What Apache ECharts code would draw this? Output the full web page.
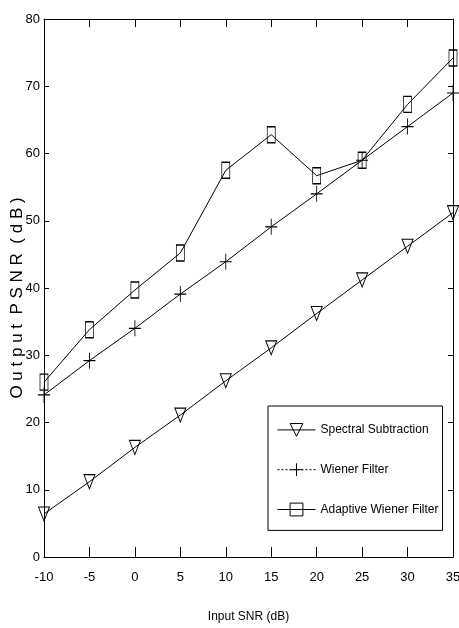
<!DOCTYPE html>
<html><head><meta charset="utf-8">
<script src="https://cdn.jsdelivr.net/npm/echarts@6/dist/echarts.min.js"></script>
<style>html,body{margin:0;padding:0;background:#fff}#c{width:459px;height:628px}</style>
</head><body><div id="c"></div>
<script>
var inputSNR = [-10, -5, 0, 5, 10, 15, 20, 25, 30, 35];
var spectralSubtraction = [6.4, 11.2, 16.3, 21.1, 26.2, 31.1, 36.2, 41.2, 46.2, 51.2];
var wienerFilter = [24.1, 29.2, 34.0, 39.1, 43.9, 49.1, 54.0, 59.0, 64.0, 69.0];
var adaptiveWienerFilter = [26.0, 33.8, 39.7, 45.2, 57.5, 62.8, 56.7, 59.0, 67.3, 74.2];
var seriesNames = ['Spectral Subtraction', 'Wiener Filter', 'Adaptive Wiener Filter'];
var yTicks = [0, 10, 20, 30, 40, 50, 60, 70, 80];
var xTicks = [-10, -5, 0, 5, 10, 15, 20, 25, 30, 35];

var sans = "'Liberation Sans', Arial, sans-serif";
function pairs(v){ return inputSNR.map(function(x,i){return [x, v[i]];}); }
var plusPath = 'path://M0,8L12,8M6,0L6,16';

var chart = echarts.init(document.getElementById('c'));
chart.setOption({
  animation: false,
  backgroundColor: '#fff',
  grid: {left: 44, right: 6, top: 19, bottom: 71, containLabel: false, outerBoundsMode: 'none'},
  xAxis: [{
    type: 'value', min: xTicks[0], max: xTicks[xTicks.length-1], interval: 5, position: 'bottom',
    axisLine: {onZero: false, lineStyle: {color: '#000', width: 1}},
    axisTick: {inside: true, length: 10, lineStyle: {color: '#000'}},
    splitLine: {show: false},
    axisLabel: {color: '#000', fontFamily: sans, fontSize: 13, margin: 14},
    name: 'Input SNR (dB)', nameLocation: 'middle', nameGap: 54, nameMoveOverlap: false,
    nameTextStyle: {color: '#000', fontFamily: sans, fontSize: 12}
  }, {
    type: 'value', min: xTicks[0], max: xTicks[xTicks.length-1], interval: 5, position: 'top',
    axisLine: {onZero: false, lineStyle: {color: '#000', width: 1}},
    axisTick: {inside: true, length: 8, lineStyle: {color: '#000'}},
    axisLabel: {show: false}, splitLine: {show: false}
  }],
  yAxis: [{
    type: 'value', min: yTicks[0], max: yTicks[yTicks.length-1], interval: 10, position: 'left',
    axisLine: {show: true, onZero: false, lineStyle: {color: '#000', width: 1}},
    axisTick: {show: true, inside: true, length: 5, lineStyle: {color: '#000'}},
    splitLine: {show: false},
    axisLabel: {color: '#000', fontFamily: sans, fontSize: 13, margin: 4},
    name: 'O u t p u t  P S N R  ( d B )', nameLocation: 'middle', nameGap: 18, nameRotate: 90,
    nameMoveOverlap: false,
    nameTextStyle: {color: '#000', fontFamily: sans, fontSize: 17, padding: [0, 20, 0, 0]}
  }, {
    type: 'value', min: yTicks[0], max: yTicks[yTicks.length-1], interval: 10, position: 'right',
    axisLine: {show: true, onZero: false, lineStyle: {color: '#000', width: 1}},
    axisTick: {show: true, inside: true, length: 5, lineStyle: {color: '#000'}},
    axisLabel: {show: false}, splitLine: {show: false}
  }],
  legend: {
    orient: 'vertical', left: 268, top: 406,
    padding: [17, 4, 14, 9], itemGap: 26, itemWidth: 38, itemHeight: 16,
    borderColor: '#000', borderWidth: 1, backgroundColor: '#fff',
    textStyle: {color: '#000', fontFamily: sans, fontSize: 12},
    data: [
      {name: seriesNames[0], lineStyle: {color: '#000', width: 1}, itemStyle: {color: 'rgba(0,0,0,0)', borderColor: '#000', borderWidth: 1}},
      {name: seriesNames[1], lineStyle: {type: [2, 2], color: '#000', width: 1}, itemStyle: {color: 'rgba(0,0,0,0)', borderColor: '#000', borderWidth: 1}},
      {name: seriesNames[2], lineStyle: {color: '#000', width: 1}, itemStyle: {color: 'rgba(0,0,0,0)', borderColor: '#000', borderWidth: 1}}
    ]
  },
  series: [{
    name: seriesNames[0], type: 'line', data: pairs(spectralSubtraction),
    symbol: 'triangle', symbolRotate: 180, symbolSize: [11, 14], showAllSymbol: true,
    lineStyle: {color: '#000', width: 1},
    itemStyle: {color: 'rgba(0,0,0,0)', borderColor: '#000', borderWidth: 1}
  }, {
    name: seriesNames[1], type: 'line', data: pairs(wienerFilter),
    symbol: plusPath, symbolSize: [12, 16], symbolKeepAspect: false, showAllSymbol: true,
    lineStyle: {color: '#000', width: 1},
    itemStyle: {color: 'rgba(0,0,0,0)', borderColor: '#000', borderWidth: 1}
  }, {
    name: seriesNames[2], type: 'line', data: pairs(adaptiveWienerFilter),
    symbol: 'rect', symbolSize: [8, 16], showAllSymbol: true,
    lineStyle: {color: '#000', width: 1},
    itemStyle: {color: 'rgba(0,0,0,0)', borderColor: '#000', borderWidth: 1}
  }]
});
</script></body></html>
